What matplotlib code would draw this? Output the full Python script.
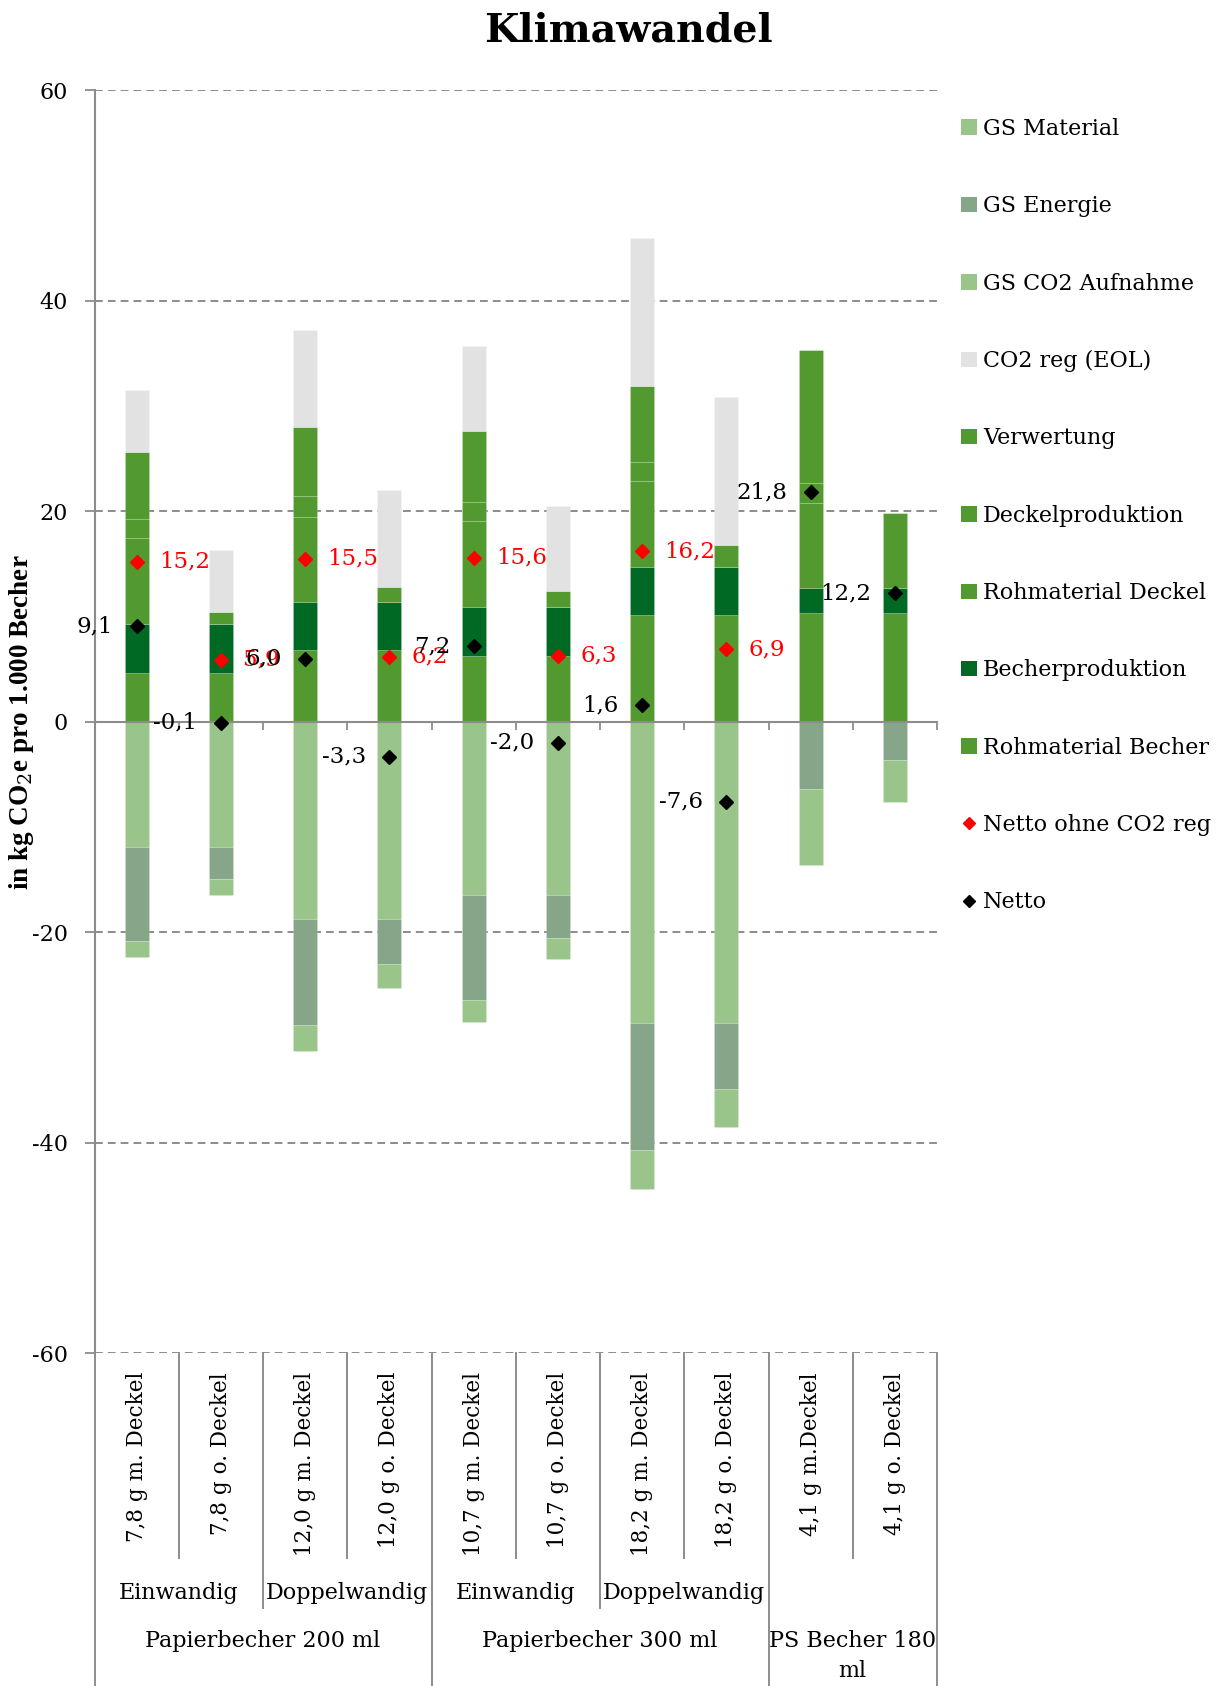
import matplotlib
matplotlib.use("Agg")
import matplotlib.pyplot as plt
import matplotlib.transforms as mtransforms
from matplotlib.patches import Patch
from matplotlib.lines import Line2D
import numpy as np

plt.rcParams['font.family'] = ['DejaVu Serif']
plt.rcParams['mathtext.fontset'] = 'dejavuserif'

# ---------------- data ----------------
cup_labels = ["7,8 g m. Deckel", "7,8 g o. Deckel", "12,0 g m. Deckel", "12,0 g o. Deckel",
              "10,7 g m. Deckel", "10,7 g o. Deckel", "18,2 g m. Deckel", "18,2 g o. Deckel",
              "4,1 g m.Deckel", "4,1 g o. Deckel"]
wall_labels = ["Einwandig", "Doppelwandig", "Einwandig", "Doppelwandig"]
group_labels = ["Papierbecher 200 ml", "Papierbecher 300 ml", "PS Becher 180\nml"]

rohmaterial_becher = [4.67, 4.67, 6.83, 6.83, 6.27, 6.27, 10.15, 10.15, 10.36, 10.36]
becherproduktion   = [4.60, 4.60, 4.60, 4.60, 4.66, 4.66, 4.58, 4.60, 2.37, 2.37]
rohmaterial_deckel = [8.16, 0.00, 8.07, 0.00, 8.13, 0.00, 8.13, 0.00, 8.09, 0.00]
deckelproduktion   = [1.84, 0.00, 1.93, 0.00, 1.80, 0.00, 1.80, 0.00, 1.90, 0.00]
verwertung         = [6.40, 1.16, 6.60, 1.40, 6.77, 1.50, 7.28, 2.05, 12.64, 7.11]
co2_reg_eol        = [5.83, 5.90, 9.20, 9.24, 8.10, 8.10, 14.00, 14.03, 0.00, 0.00]
gs_co2_aufnahme    = [-11.93, -11.93, -18.77, -18.77, -16.49, -16.49, -28.58, -28.58, 0.00, 0.00]
gs_energie         = [-8.86, -3.01, -10.06, -4.20, -9.90, -4.05, -12.05, -6.26, -6.36, -3.61]
gs_material        = [-1.58, -1.52, -2.47, -2.35, -2.12, -2.02, -3.74, -3.61, -7.25, -4.05]

netto_ohne_co2_reg = [15.2, 5.9, 15.5, 6.2, 15.6, 6.3, 16.2, 6.9, np.nan, np.nan]
netto              = [9.1, -0.1, 6.0, -3.3, 7.2, -2.0, 1.6, -7.6, 21.8, 12.2]

y_ticks = [-60, -40, -20, 0, 20, 40, 60]

# ---------------- styling ----------------
C_GREEN = "#529a2f"
C_DARK = "#006a24"
C_GRAY = "#e2e2e2"
C_LIGHT = "#99c58a"
C_ENERGY = "#86a689"
C_AXIS = "#8c8c8c"
FS = 16

series = [
    ("Rohmaterial Becher", rohmaterial_becher, C_GREEN),
    ("Becherproduktion", becherproduktion, C_DARK),
    ("Rohmaterial Deckel", rohmaterial_deckel, C_GREEN),
    ("Deckelproduktion", deckelproduktion, C_GREEN),
    ("Verwertung", verwertung, C_GREEN),
    ("CO2 reg (EOL)", co2_reg_eol, C_GRAY),
    ("GS CO2 Aufnahme", gs_co2_aufnahme, C_LIGHT),
    ("GS Energie", gs_energie, C_ENERGY),
    ("GS Material", gs_material, C_LIGHT),
]

W, H = 1218, 1686
fig = plt.figure(figsize=(W / 100, H / 100), dpi=100)
ax_left, ax_right = 94.6, 937.0
ax_top, ax_bot = 90.3, 1353.4
ax = fig.add_axes([ax_left / W, 1 - ax_bot / H, (ax_right - ax_left) / W, (ax_bot - ax_top) / H])

n = len(cup_labels)
x = np.arange(n) + 0.5
bw = 0.285
pos_bottom = np.zeros(n)
neg_bottom = np.zeros(n)
handles = {}
for name, vals, col in series:
    v = np.array(vals, dtype=float)
    bottom = np.where(v >= 0, pos_bottom, neg_bottom)
    ax.bar(x, v, bw, bottom=bottom, color=col, edgecolor=(1, 1, 1, 0.15),
           linewidth=0.7, zorder=2)
    pos_bottom = pos_bottom + np.where(v > 0, v, 0)
    neg_bottom = neg_bottom + np.where(v < 0, v, 0)
    handles[name] = Patch(facecolor=col, edgecolor='none')

ax.plot(x, netto_ohne_co2_reg, linestyle='none', marker='D', color='#ff0000', ms=7.5, zorder=5)
ax.plot(x, netto, linestyle='none', marker='D', color='black', ms=7.5, zorder=6)

def fmt(v):
    return f"{v:.1f}".replace('.', ',')

for xi, v in zip(x, netto_ohne_co2_reg):
    if not np.isnan(v):
        ax.annotate(fmt(v), (xi, v), xytext=(16, 0), textcoords='offset points',
                    ha='left', va='center', color='#ff0000', fontsize=16.5, zorder=7)
for xi, v in zip(x, netto):
    ax.annotate(fmt(v), (xi, v), xytext=(-17, 0), textcoords='offset points',
                ha='right', va='center', color='black', fontsize=16.5, zorder=7)

ax.set_xlim(0, n)
ax.set_ylim(-60, 60)
ax.set_yticks(y_ticks)
ax.set_yticklabels([str(t) for t in y_ticks], fontsize=FS)
ax.set_axisbelow(True)
ax.yaxis.grid(True, linestyle=(0, (4, 2.6)), color=C_AXIS, linewidth=1.4)
ax.tick_params(axis='y', direction='out', length=7, width=1.3, color=C_AXIS, pad=12)
ax.set_xticks(np.arange(n + 1))
ax.set_xticklabels([])
ax.tick_params(axis='x', direction='out', length=5.5, width=1.3, color=C_AXIS)
for s in ['top', 'right']:
    ax.spines[s].set_visible(False)
ax.spines['bottom'].set_position(('data', 0))
ax.spines['bottom'].set_color(C_AXIS)
ax.spines['bottom'].set_linewidth(1.5)
ax.spines['bottom'].set_zorder(3)
ax.spines['left'].set_color(C_AXIS)
ax.spines['left'].set_linewidth(1.5)

# ---------------- multi-level category axis ----------------
trans = mtransforms.blended_transform_factory(ax.transData, ax.transAxes)
axh = ax_bot - ax_top

def ya(ypx):
    return -(ypx - ax_bot) / axh

for i in range(n + 1):
    if i in (0, 4, 8, 10):
        y_end = H
    elif i in (2, 6):
        y_end = 1608
    else:
        y_end = 1558
    ax.add_line(Line2D([i, i], [0, ya(y_end)], transform=trans, color=C_AXIS,
                       linewidth=1.4, clip_on=False))

for xi, lab in zip(x, cup_labels):
    ax.text(xi, ya(1372), lab, transform=trans, rotation=90, ha='center', va='top',
            fontsize=15.5, clip_on=False)
for j, lab in enumerate(wall_labels):
    ax.text(2 * j + 1, ya(1593), lab, transform=trans, ha='center', va='center',
            fontsize=FS, clip_on=False)
group_centers = [2, 6, 9]
for xc, lab in zip(group_centers, group_labels):
    ax.text(xc, ya(1630), lab, transform=trans, ha='center', va='top',
            fontsize=FS, linespacing=1.45, clip_on=False)

# ---------------- title, y label, legend ----------------
fig.text(628 / W, 1 - 30 / H, "Klimawandel", ha='center', va='center',
         fontsize=28.5, fontweight='bold')
fig.text(21.5 / W, 1 - 722 / H, "in kg CO$_2$e pro 1.000 Becher", rotation=90,
         ha='center', va='center', fontsize=19.5, fontweight='bold',
         family=['Liberation Serif', 'DejaVu Serif'])

legend_order = ["GS Material", "GS Energie", "GS CO2 Aufnahme", "CO2 reg (EOL)", "Verwertung",
                "Deckelproduktion", "Rohmaterial Deckel", "Becherproduktion", "Rohmaterial Becher"]
leg_handles = [handles[k] for k in legend_order]
leg_labels = list(legend_order)
leg_handles.append(Line2D([], [], linestyle='none', marker='D', color='#ff0000', ms=6))
leg_labels.append("Netto ohne CO2 reg")
leg_handles.append(Line2D([], [], linestyle='none', marker='D', color='black', ms=6))
leg_labels.append("Netto")

fig.legend(leg_handles, leg_labels, loc='upper left', bbox_to_anchor=(961 / W, 1 - 118 / H),
           frameon=False, fontsize=FS, handlelength=0.7, handleheight=0.7,
           handletextpad=0.3, labelspacing=2.49, borderpad=0, borderaxespad=0)

fig.savefig("out.png", dpi=100)
